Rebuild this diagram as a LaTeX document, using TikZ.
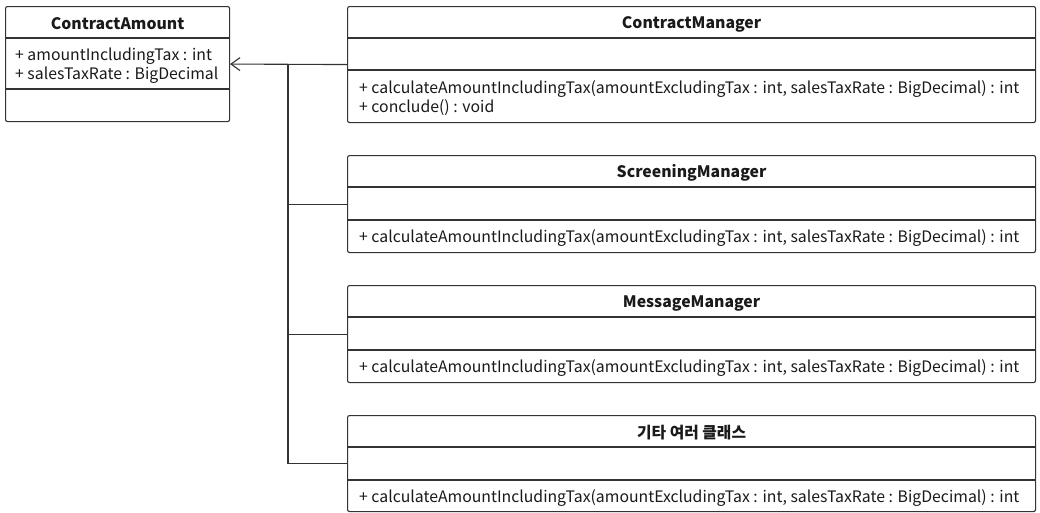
\documentclass[tikz,border=0pt]{standalone}
\usepackage{fontspec}
\setmainfont{Noto Sans CJK KR}
\usetikzlibrary{arrows.meta}

\definecolor{edge}{HTML}{333333}
\definecolor{ink}{HTML}{1A1A1A}

\tikzset{
  classbox/.style={draw=edge, line width=1.1pt, rounded corners=2pt,
    anchor=north west, inner sep=0pt, fill=white},
  divider/.style={draw=edge, line width=1.1pt},
  title/.style={font=\bfseries\fontsize{15.8}{18}\selectfont, text=ink, inner sep=0pt},
  member/.style={font=\fontsize{15.8}{18.5}\selectfont, text=ink, align=left,
    anchor=west, inner sep=0pt},
  link/.style={draw=edge, line width=1.1pt},
  realizes/.style={link, -{Straight Barb[length=9pt,width=13pt,line width=1.1pt]}}
}

\begin{document}
\begin{tikzpicture}[x=1pt, y=-1pt]
  \useasboundingbox (0,0) rectangle (1040,512);

  % ContractAmount
  \node[classbox, minimum width=224pt, minimum height=115pt] (ca) at (5,6) {};
  \draw[divider] ([yshift=-32pt]ca.north west) -- ([yshift=-32pt]ca.north east);
  \draw[divider] ([yshift=-83pt]ca.north west) -- ([yshift=-83pt]ca.north east);
  \node[title] (catitle) at ([yshift=-18pt]ca.north) {ContractAmount};
  \node[member] (caattr) at ([xshift=10pt,yshift=-59.5pt]ca.north west)
    {+ amountIncludingTax : int\\+ salesTaxRate : BigDecimal};

  % ContractManager
  \node[classbox, minimum width=688pt, minimum height=116pt] (cm) at (347,6) {};
  \draw[divider] ([yshift=-32pt]cm.north west) -- ([yshift=-32pt]cm.north east);
  \draw[divider] ([yshift=-64pt]cm.north west) -- ([yshift=-64pt]cm.north east);
  \node[title] (cmtitle) at ([yshift=-18pt]cm.north) {ContractManager};
  \node[member] (cmops) at ([xshift=12pt,yshift=-92pt]cm.north west)
    {+ calculateAmountIncludingTax(amountExcludingTax : int, salesTaxRate : BigDecimal) : int\\+ conclude() : void};

  % ScreeningManager
  \node[classbox, minimum width=688pt, minimum height=97pt] (sm) at (347,155) {};
  \draw[divider] ([yshift=-32pt]sm.north west) -- ([yshift=-32pt]sm.north east);
  \draw[divider] ([yshift=-65pt]sm.north west) -- ([yshift=-65pt]sm.north east);
  \node[title] (smtitle) at ([yshift=-18pt]sm.north) {ScreeningManager};
  \node[member] (smops) at ([xshift=12pt,yshift=-83pt]sm.north west)
    {+ calculateAmountIncludingTax(amountExcludingTax : int, salesTaxRate : BigDecimal) : int};

  % MessageManager
  \node[classbox, minimum width=688pt, minimum height=97pt] (mm) at (347,285) {};
  \draw[divider] ([yshift=-32pt]mm.north west) -- ([yshift=-32pt]mm.north east);
  \draw[divider] ([yshift=-65pt]mm.north west) -- ([yshift=-65pt]mm.north east);
  \node[title] (mmtitle) at ([yshift=-18pt]mm.north) {MessageManager};
  \node[member] (mmops) at ([xshift=12pt,yshift=-83pt]mm.north west)
    {+ calculateAmountIncludingTax(amountExcludingTax : int, salesTaxRate : BigDecimal) : int};

  % other classes
  \node[classbox, minimum width=688pt, minimum height=96pt] (oc) at (347,415) {};
  \draw[divider] ([yshift=-32pt]oc.north west) -- ([yshift=-32pt]oc.north east);
  \draw[divider] ([yshift=-65pt]oc.north west) -- ([yshift=-65pt]oc.north east);
  \node[title] (octitle) at ([yshift=-18pt]oc.north) {기타 여러 클래스};
  \node[member] (ocops) at ([xshift=12pt,yshift=-83pt]oc.north west)
    {+ calculateAmountIncludingTax(amountExcludingTax : int, salesTaxRate : BigDecimal) : int};

  % dependency lines into ContractAmount
  \coordinate (trunk) at (288,64);
  \draw[realizes] (cm.west) -- (ca.east);
  \draw[link] (trunk) -- (trunk |- oc.west) -- (oc.west);
  \draw[link] (sm.west -| trunk) -- (sm.west);
  \draw[link] (mm.west -| trunk) -- (mm.west);
\end{tikzpicture}
\end{document}
